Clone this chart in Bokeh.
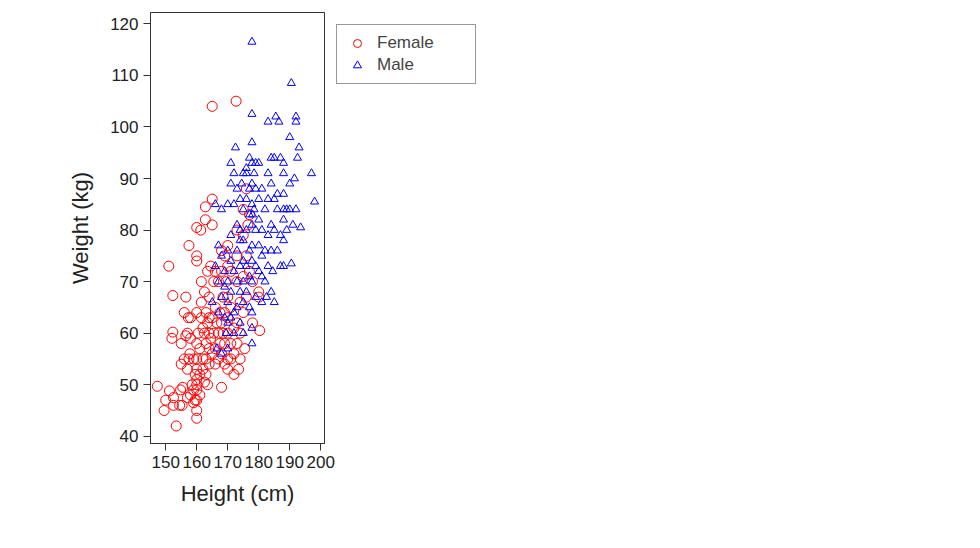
from bokeh.plotting import figure
from bokeh.models import Range1d, FixedTicker, Legend, LegendItem
from bokeh.embed import file_html
from bokeh.resources import INLINE

female_h = [147.3,149.5,150,151,151.2,152,152.3,152.3,152.5,152.5,153.4,154.5,154.8,155,155,155.3,155.5,156,156,156.5,156.5,157,157,157,157.3,157.5,157.5,157.8,158,158,158,158.5,159,159,159,159.5,159.5,160,160,160,160,160,160,160,160,160,160,160,160,160,160.5,161,161,161,161.3,161.5,161.5,161.5,162,162,162,162.5,162.5,162.5,162.8,162.8,163,163,163,163,163.5,163.5,163.5,164,164,164,164,164.5,164.5,165,165,165,165,165,165.5,165.5,166,166,166,166.5,167,167,167,167.5,167.5,168,168,168,168,168,168.5,168.5,169,169,169,169.5,170,170,170,170,170,170,170,171,171,171,172,172,172,172.7,173,173,173,173,173,173.5,174,174,174,175,175,175,175,175.5,176,176,176,177,177,178,178,180,180.3,180,171,166,164,169,176.5]
female_w = [49.7,45,47,73,48.8,59,60.2,67.3,46,47.5,42,46,49,54,58,46,49.5,64,55,67,59.5,60,53,47.5,63,77,55,56,48,63,59,50,46.5,55,49,47,52,80.5,75,74,64,58,55,53,51,50,49,47,45,43.5,60,57,52,48,80,70,66,63,61,55,53,68,60,50.5,84.5,82,64,58,55,52,72,62,50,67,60,57,54,73,59,104,86,81,63,56,70,60,65,57,54,62,70,60,55,64,58,72,76,62,56,49.5,67,60,64,58,54,70,77,73,67,63,60,55,53,65,58,55,61,56,52,105,80,75,70,62,58,53,66,60,55,84,79,71,64,57,88,75,67,83,72,70,62,67,60.5,68,72,72,63,75,81]

male_h = [165,166,166,166.5,167,167,168,168,168,168,169,169,169.5,170,170,170,170,170,170,171,171,171,171,171,172,172,172,172,172,172.5,173,173,173,173,173,174,174,174,174,174,174.5,175,175,175,175,175,175,175,176,176,176,176,176,177,177,177,177,177,177,177.8,177.8,177.8,177.8,177.8,177.8,177.8,177.8,177.8,177.8,177.8,177.8,177.8,178.5,179,179,179,179,179,180,180,180,180,180,181,181,181,181,182,182,182,182.5,183,183,183,183,183,184,184,184,184,184.5,185,185,185,185.5,186,186,186.5,187,187,187,188,188,188,188,188,188,188,189,190,190,190,190.5,190.5,191,191.5,192,192,192,192.5,193,193.5,197,198,167,169,176,178.5,186,184,181,171,174,178,185,189]
male_w = [66,85,73,57,70,64,84,75,67,56,72,63,60,85,76,70,66,62,57,93,79,74,68,63,91,85,72,64,60,96,88,81,76,70,65,86,80,73,68,62,89,91,84,78,74,70,66,60,92,86,80,73,68,94,88,83,76,71,65,116.5,102.5,97,93,89,85,81,77,74,70,64,61,58,84,93,88,80,73,67,93,86,82,77,72,88,80,75,66,84,76,70,67,101,91,86,79,73,89,81,76,68,72,94,86,66,102,84,76,101,94,79,73,93,91,87,84,82,78,73,84,98,89,84,108.5,73.5,81,90,102,101,84,94,96,80.5,91,85.5,77,69,91,91,87,94,71,89,78,83,80,80]

x_ticks = [150, 160, 170, 180, 190, 200]
y_ticks = [40, 50, 60, 70, 80, 90, 100, 110, 120]

FONT = "Liberation Sans"
p = figure(width=964, height=530, output_backend="svg", toolbar_location=None,
           x_range=Range1d(145.1, 201.2), y_range=Range1d(38.6, 122.2),
           min_border_left=150, min_border_right=0, min_border_top=12, min_border_bottom=87)
p.grid.visible = False
p.outline_line_color = "#333333"
p.outline_line_width = 1

f = p.scatter(female_h, female_w, marker="circle", size=10, fill_color=None, line_color="red", line_width=1)
m = p.scatter(male_h, male_w, marker="triangle", size=8, fill_color=None, line_color="blue", line_width=1)

for ax, lab, ticks in [(p.xaxis[0], "Height (cm)", x_ticks), (p.yaxis[0], "Weight (kg)", y_ticks)]:
    ax.axis_label = lab
    ax.ticker = FixedTicker(ticks=ticks)
    ax.axis_label_text_font = FONT
    ax.axis_label_text_font_style = "normal"
    ax.axis_label_text_font_size = "22px"
    ax.axis_label_text_color = "#222222"
    ax.major_label_text_font = FONT
    ax.major_label_text_font_size = "17px"
    ax.major_label_text_color = "#222222"
    ax.minor_tick_line_color = None
    ax.major_tick_out = 7
    ax.major_tick_in = 0
    ax.axis_line_color = "#333333"
    ax.major_tick_line_color = "#333333"
p.yaxis[0].major_label_orientation = 0
p.yaxis[0].axis_label_standoff = 14
p.xaxis[0].axis_label_standoff = 10

legend = Legend(items=[LegendItem(label="Female", renderers=[f]), LegendItem(label="Male", renderers=[m])],
                location="top_left", label_text_font=FONT, label_text_font_size="17px",
                border_line_color="#333333", background_fill_alpha=1, padding=8, spacing=2,
                glyph_width=24, label_standoff=8, margin=12, label_width=90)
p.add_layout(legend, "right")

open("out.html", "w").write(file_html(p, INLINE))
